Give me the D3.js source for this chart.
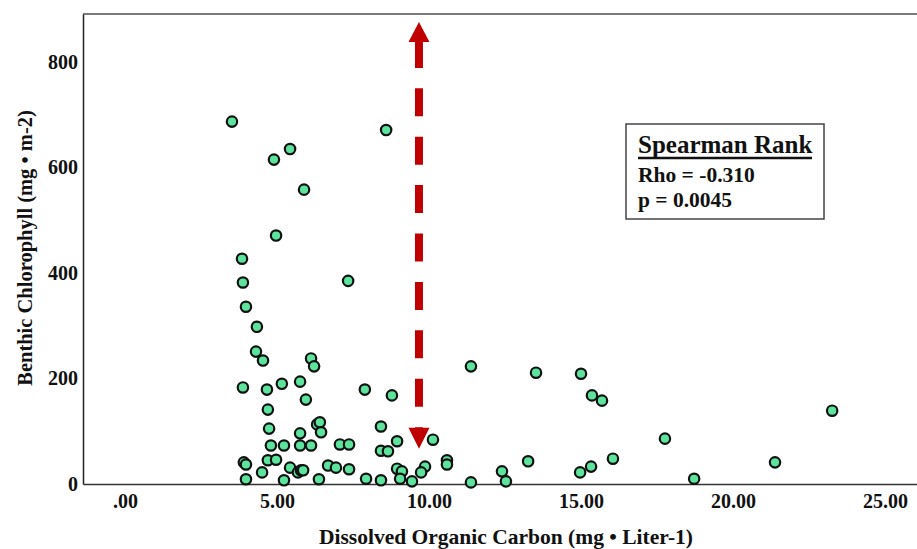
<!DOCTYPE html>
<html>
<head>
<meta charset="utf-8">
<script src="https://cdn.jsdelivr.net/npm/d3@7"></script>
<style>
    body { margin: 0; background: #fff; }
    svg text { font-family: "Liberation Serif", "Times New Roman", serif; font-weight: bold; fill: #111; }
</style>
</head>
<body>
<div id="svg"></div>
<script>
// dissolved organic carbon (mg/L) and benthic chlorophyll (mg/m2)
var doc = [3.52, 4.90, 5.43, 5.89, 4.97, 8.59, 3.85, 3.88, 7.34, 3.98,
    4.34, 4.31, 4.54, 6.12, 6.22, 3.88, 4.67, 5.16, 5.76, 5.95,
    7.89, 8.78, 4.70, 4.74, 6.32, 6.41, 6.45, 5.76, 8.42, 10.13,
    8.95, 4.80, 5.23, 5.76, 6.12, 7.07, 7.37, 8.42, 8.65, 3.91,
    3.98, 4.70, 4.97, 5.43, 5.69, 5.79, 5.86, 6.68, 6.94, 7.37,
    8.95, 9.11, 9.87, 9.74, 10.59, 10.59, 3.98, 4.51, 5.23, 6.38,
    7.93, 8.42, 9.05, 9.44, 11.38, 13.52, 15.00, 15.36, 15.69, 23.26,
    17.76, 13.26, 16.05, 21.38, 15.33, 14.97, 12.40, 18.72, 11.38, 12.53];
var chl = [687, 615, 635, 558, 471, 671, 427, 382, 385, 336,
    298, 251, 234, 238, 223, 183, 179, 190, 194, 160,
    179, 168, 141, 105, 113, 117, 98, 96, 109, 84,
    81, 73, 73, 73, 73, 75, 75, 63, 62, 41,
    37, 45, 46, 31, 22, 26, 26, 35, 31, 28,
    29, 24, 33, 22, 45, 37, 9, 22, 7, 9,
    10, 7, 10, 5, 223, 211, 209, 168, 158, 139,
    86, 43, 48, 41, 33, 22, 24, 10, 3, 5];

var xTicks = [0, 5, 10, 15, 20, 25];
var yTicks = [0, 200, 400, 600, 800];

var statTitle = "Spearman Rank";
var statLines = ["Rho = -0.310", "p = 0.0045"];

// red arrow, in data units
var arrowX = 9.67, arrowTop = 876, arrowBottom = 67;

var width = 917,
    height = 549,
    margin = { top: 14, right: 0, bottom: 65, left: 83 };

var x = d3.scaleLinear()
    .domain([-1.38, 26.05])
    .range([margin.left, width - margin.right]);

var y = d3.scaleLinear()
    .domain([0, 891])
    .range([height - margin.bottom, margin.top]);

var svg = d3.select("#svg").append("svg")
    .attr("width", width)
    .attr("height", height);

// top frame line
svg.append("line")
    .attr("x1", margin.left)
    .attr("x2", width)
    .attr("y1", margin.top)
    .attr("y2", margin.top)
    .attr("stroke", "#7a7a7a")
    .attr("stroke-width", 2);

var fmtX = function (d) { return d3.format(".2f")(d).replace(/^0\./, "."); };

var xAxis = svg.append("g")
    .attr("transform", "translate(0," + y(0) + ")")
    .call(d3.axisBottom(x).tickValues(xTicks).tickSize(0).tickPadding(10).tickFormat(fmtX));
xAxis.select(".domain").attr("stroke", "#333").attr("stroke-width", 1.5);
xAxis.selectAll("text").style("font-size", "20px")
    .style("font-family", "'Liberation Serif', serif").attr("fill", "#111");

var yAxis = svg.append("g")
    .attr("transform", "translate(" + margin.left + ",0)")
    .call(d3.axisLeft(y).tickValues(yTicks).tickSize(0).tickPadding(5));
yAxis.select(".domain").attr("stroke", "#222").attr("stroke-width", 1.5);
yAxis.selectAll("text").style("font-size", "20px")
    .style("font-family", "'Liberation Serif', serif").attr("fill", "#111");

// axis titles
svg.append("text")
    .attr("x", 506)
    .attr("y", 544)
    .attr("text-anchor", "middle")
    .style("font-size", "21.5px")
    .text("Dissolved Organic Carbon (mg \u2022 Liter-1)");

svg.append("text")
    .attr("transform", "translate(32,248) rotate(-90)")
    .attr("text-anchor", "middle")
    .style("font-size", "20.5px")
    .text("Benthic Chlorophyll (mg \u2022 m-2)");

// arrow
var ax = x(arrowX);
var yt = y(arrowTop), yb = y(arrowBottom);
var red = "#c00000";
svg.append("line")
    .attr("x1", ax).attr("x2", ax)
    .attr("y1", yt + 18)
    .attr("y2", yb - 21)
    .attr("stroke", red)
    .attr("stroke-width", 8)
    .attr("stroke-dasharray", "28,20.4");
svg.append("path")
    .attr("d", "M" + ax + "," + yt + "L" + (ax + 10.5) + "," + (yt + 20) + "L" + (ax - 10.5) + "," + (yt + 20) + "Z")
    .attr("fill", red);
svg.append("path")
    .attr("d", "M" + ax + "," + yb + "L" + (ax + 10.5) + "," + (yb - 21) + "L" + (ax - 10.5) + "," + (yb - 21) + "Z")
    .attr("fill", red);

// points
var pts = doc.map(function (d, i) { return { x: d, y: chl[i] }; });
svg.append("g")
    .selectAll("circle")
    .data(pts)
    .enter().append("circle")
    .attr("cx", function (d) { return x(d.x); })
    .attr("cy", function (d) { return y(d.y); })
    .attr("r", 5.2)
    .attr("fill", "#5ce39c")
    .attr("stroke", "#111")
    .attr("stroke-width", 2.2);

// stats box
svg.append("rect")
    .attr("x", 626)
    .attr("y", 124)
    .attr("width", 198)
    .attr("height", 95)
    .attr("fill", "#fff")
    .attr("stroke", "#444")
    .attr("stroke-width", 1.5);

svg.append("text")
    .attr("x", 638)
    .attr("y", 153)
    .style("font-size", "25px")
    .text(statTitle);
svg.append("line")
    .attr("x1", 638).attr("x2", 812)
    .attr("y1", 158).attr("y2", 158)
    .attr("stroke", "#111")
    .attr("stroke-width", 2.4);

statLines.forEach(function (s, i) {
    svg.append("text")
        .attr("x", 638)
        .attr("y", 182 + i * 25)
        .style("font-size", "21.5px")
        .text(s);
});
</script>
</body>
</html>
